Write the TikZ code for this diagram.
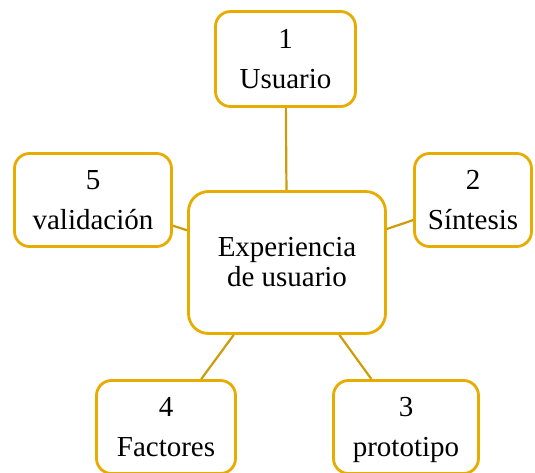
\documentclass[tikz,border=0pt]{standalone}
\usepackage{fontspec}
\setmainfont{Liberation Serif}
\definecolor{boxgold}{RGB}{232,172,0}
\definecolor{linegold}{RGB}{205,156,10}
\begin{document}
\begin{tikzpicture}[x=1pt,y=-1pt,
  box/.style={draw=boxgold, line width=2.8pt, rounded corners=15pt, fill=white,
    align=center, inner sep=0pt, font=\fontsize{29}{30}\selectfont},
  link/.style={draw=linegold, line width=2.2pt}]
\useasboundingbox (0,0) rectangle (535,473);
\node[box, minimum width=197pt, minimum height=142pt, rounded corners=20pt] (c) at (287,262.5) {Experiencia\\de usuario};
\node[box, minimum width=140pt, minimum height=95pt] (b1) at (285.5,59) {1\\[10pt]Usuario};
\node[box, minimum width=117pt, minimum height=93pt] (b2) at (473,200) {2\\[10pt]Síntesis};
\node[box, minimum width=157pt, minimum height=93pt] (b5) at (93,200) {5\\[10pt]validación};
\node[box, minimum width=139pt, minimum height=93pt] (b4) at (166,427) {4\\[10pt]Factores};
\node[box, minimum width=145pt, minimum height=93pt] (b3) at (406,427) {3\\[10pt]\smash{prototipo}};
\draw[link] (c) -- (b1);
\draw[link] (c) -- (b2);
\draw[link] (c) -- (b3);
\draw[link] (c) -- (b4);
\draw[link] (c) -- (b5);
\end{tikzpicture}
\end{document}
